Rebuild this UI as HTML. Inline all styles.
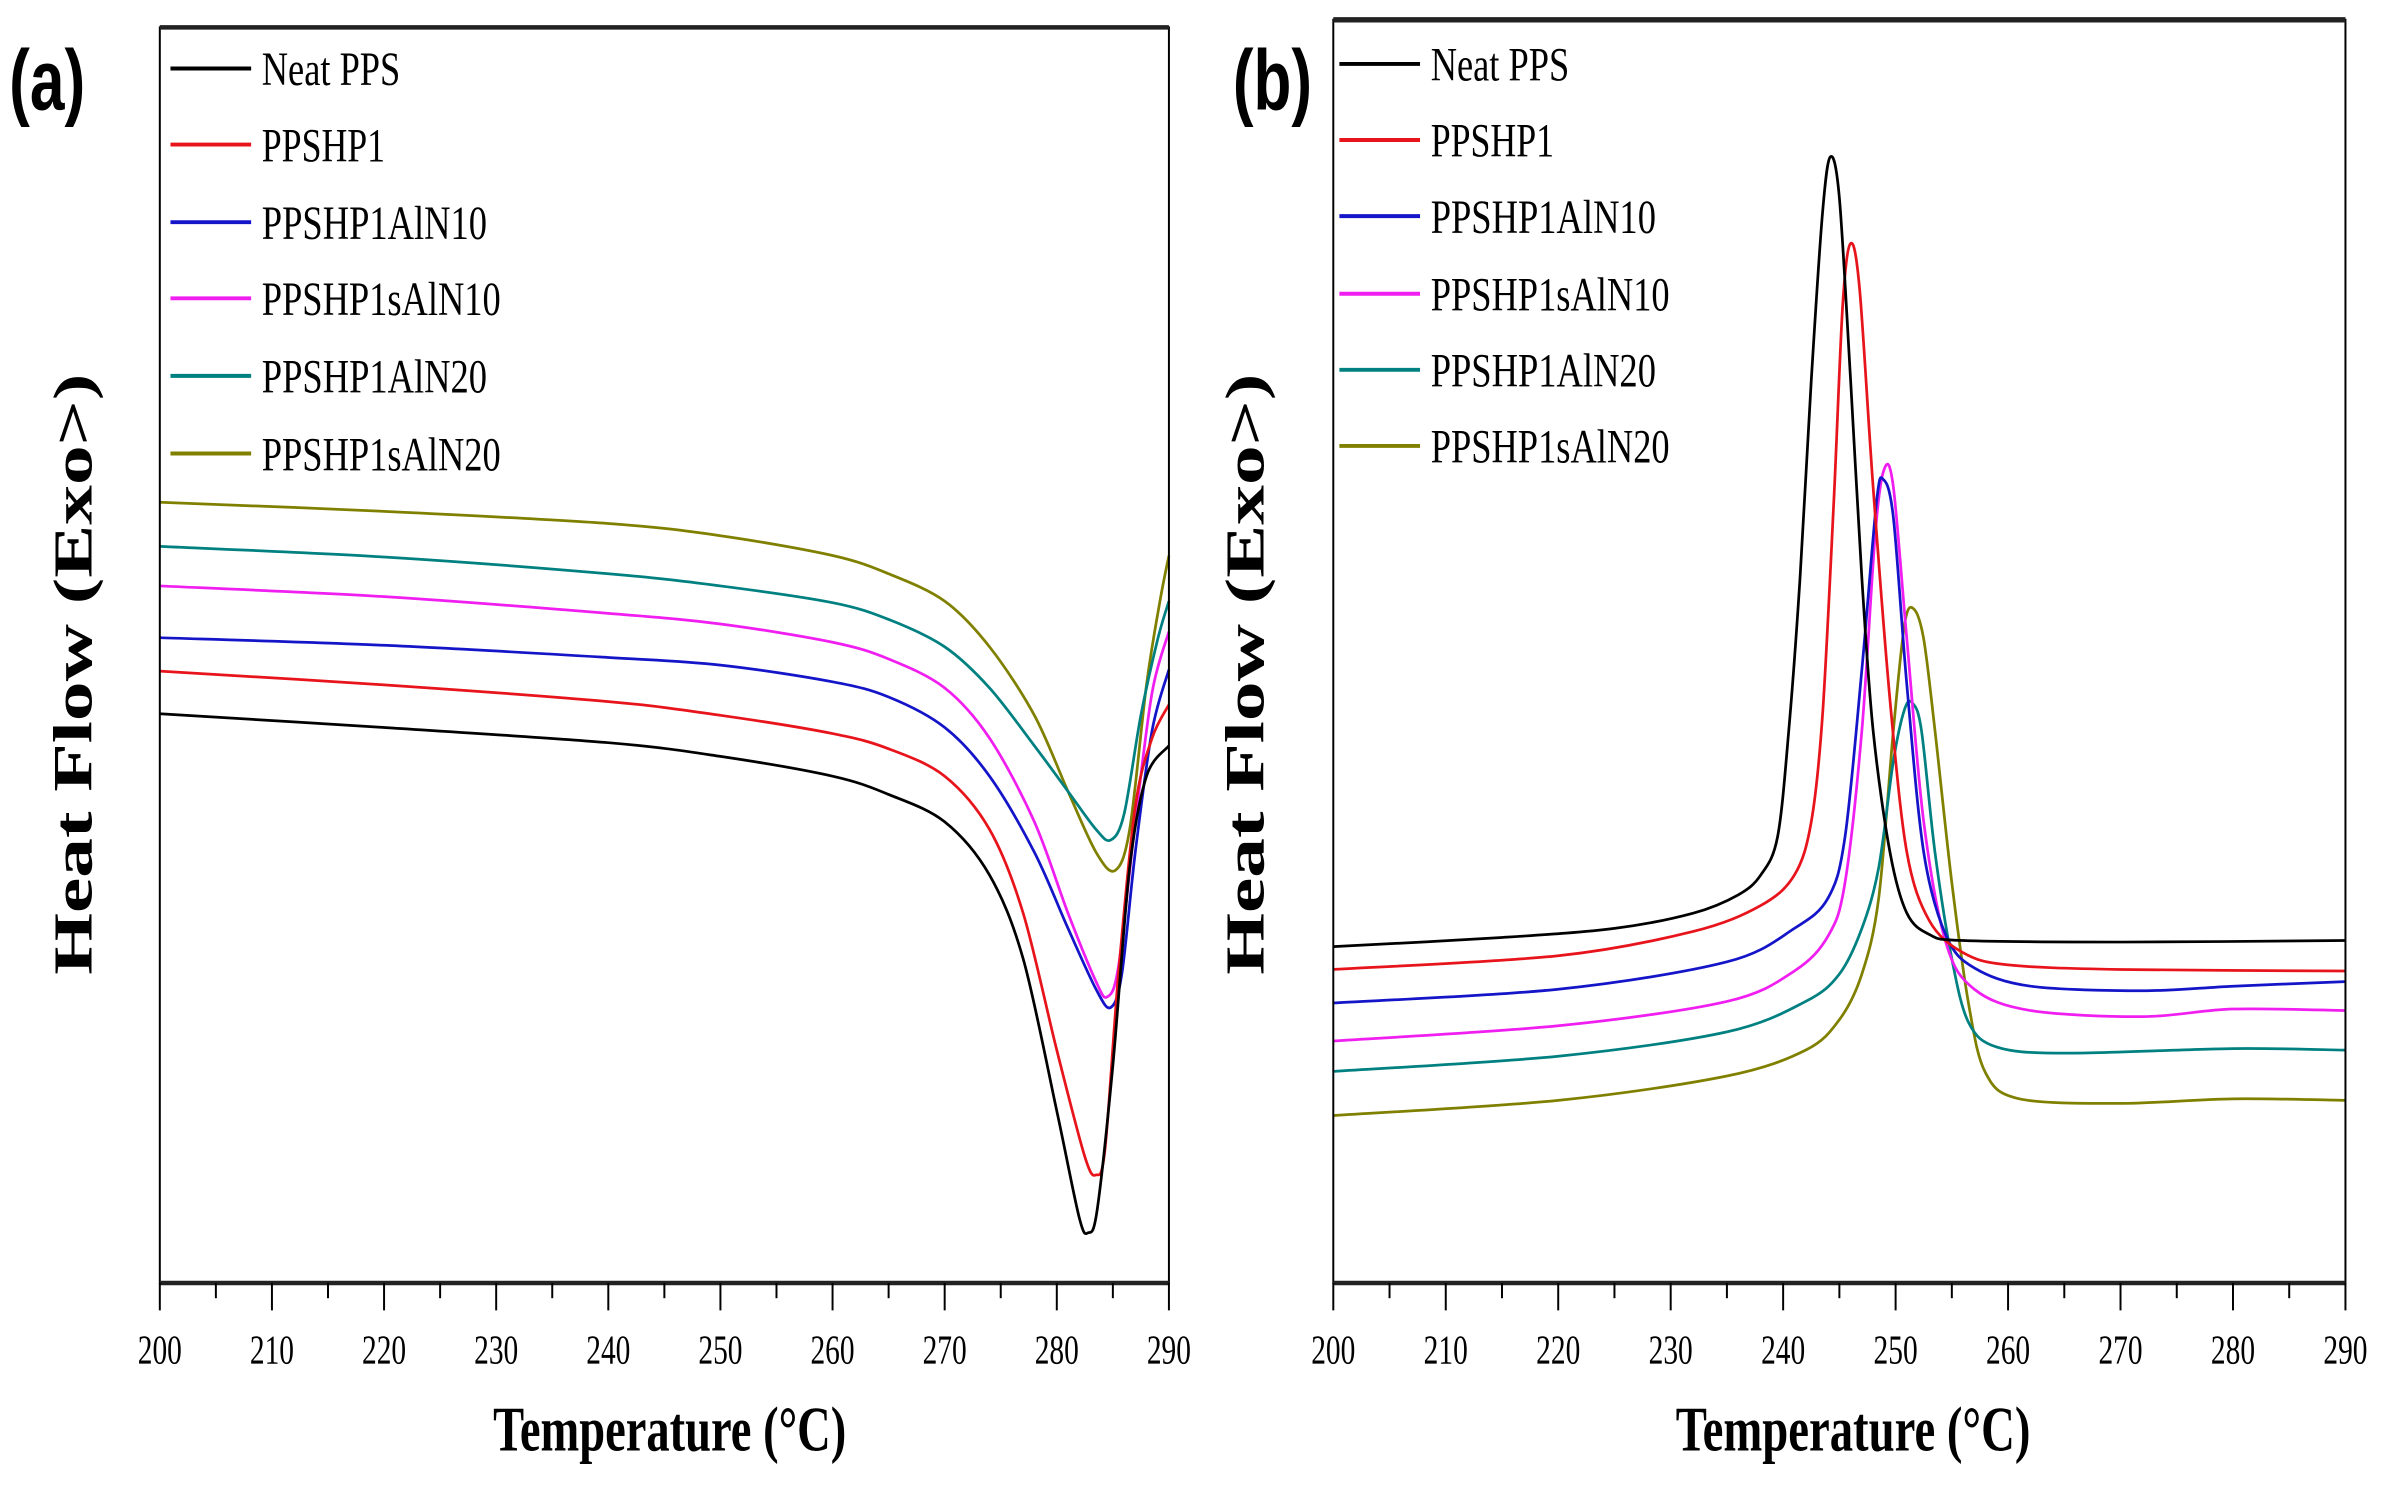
<!DOCTYPE html>
<html><head><meta charset="utf-8"><style>html,body{margin:0;padding:0;background:#fff;}svg{display:block}</style></head>
<body>
<svg id="s" width="2387" height="1493" viewBox="0 0 1568.3 981" preserveAspectRatio="none" xmlns="http://www.w3.org/2000/svg" font-family="'Liberation Serif', serif">
<rect width="1568.3" height="981" fill="#fff"/>
<g id="plots"></g>
<!-- frames -->
<rect x="105" y="18" width="663" height="825" fill="none" stroke="#000" stroke-width="1.3"/>
<line x1="105" y1="18" x2="768" y2="18" stroke="#222" stroke-width="3"/>
<line x1="105" y1="843" x2="768" y2="843" stroke="#222" stroke-width="3"/>
<rect x="876" y="13" width="665" height="830" fill="none" stroke="#000" stroke-width="1.3"/>
<line x1="876" y1="13" x2="1541" y2="13" stroke="#222" stroke-width="3.5"/>
<line x1="876" y1="843" x2="1541" y2="843" stroke="#222" stroke-width="3"/>
<g id="ticks"></g>
<!-- panel labels -->
<text x="6" y="72" font-family="'Liberation Sans', sans-serif" font-weight="bold" font-size="56" textLength="50" lengthAdjust="spacingAndGlyphs">(a)</text>
<text x="810" y="72" font-family="'Liberation Sans', sans-serif" font-weight="bold" font-size="56" textLength="52" lengthAdjust="spacingAndGlyphs">(b)</text>
<!-- y labels -->
<text transform="translate(60,443) rotate(-90)" text-anchor="middle" font-weight="bold" font-size="36" textLength="395" lengthAdjust="spacingAndGlyphs">Heat Flow (Exo&gt;)</text>
<text transform="translate(830,443) rotate(-90)" text-anchor="middle" font-weight="bold" font-size="36" textLength="395" lengthAdjust="spacingAndGlyphs">Heat Flow (Exo&gt;)</text>
<!-- x titles -->
<text x="324" y="953" font-weight="bold" font-size="42" textLength="232" lengthAdjust="spacingAndGlyphs">Temperature (°C)</text>
<text x="1101" y="953" font-weight="bold" font-size="42" textLength="233" lengthAdjust="spacingAndGlyphs">Temperature (°C)</text>
<g id="leg"></g>
</svg>
<script>
var NS="http://www.w3.org/2000/svg";
function el(p,t,a,txt){var e=document.createElementNS(NS,t);for(var k in a)e.setAttribute(k,a[k]);if(txt!==undefined)e.textContent=txt;p.appendChild(e);return e;}
var cols=["#000","#e8141c","#1414c8","#f01ef0","#008080","#808000"];
var names=["Neat PPS","PPSHP1","PPSHP1AlN10","PPSHP1sAlN10","PPSHP1AlN20","PPSHP1sAlN20"];
var widths=[91,81,148,157,148,157];
function spline(pts,X){var d="";var P=pts.map(function(p){return [X(p[0]),p[1]];});
 d="M"+P[0][0].toFixed(2)+","+P[0][1].toFixed(2);
 for(var i=0;i<P.length-1;i++){var p0=P[i-1]||P[i],p1=P[i],p2=P[i+1],p3=P[i+2]||P[i+1];
  var t=0.16;var c1=[p1[0]+(p2[0]-p0[0])*t,p1[1]+(p2[1]-p0[1])*t],c2=[p2[0]-(p3[0]-p1[0])*t,p2[1]-(p3[1]-p1[1])*t];
  d+="C"+c1[0].toFixed(2)+","+c1[1].toFixed(2)+" "+c2[0].toFixed(2)+","+c2[1].toFixed(2)+" "+p2[0].toFixed(2)+","+p2[1].toFixed(2);}
 return d;}
var A=[
[[200,469],[220,478],[240,488],[250,497],[260,510],[265,522],[270,540],[274,575],[277,630],[280,730],[282,800],[282.8,810],[283.6,795],[285,700],[286.5,570],[288,510],[290,490]],
[[200,441],[220,450],[240,461],[250,470],[260,482],[265,492],[270,510],[274,545],[277,600],[280,690],[282.5,760],[283.5,772],[284.3,755],[285.5,640],[287,530],[288.5,485],[290,463]],
[[200,419],[220,424],[240,432],[250,437],[260,448],[265,458],[270,478],[274,510],[278,560],[281,610],[283.5,650],[284.8,662],[285.8,640],[287,560],[288.5,480],[290,440]],
[[200,385],[220,392],[240,403],[250,410],[260,422],[265,433],[270,452],[274,485],[278,540],[281,600],[283.5,645],[284.5,655],[285.5,635],[287,540],[288.5,455],[290,415]],
[[200,359],[220,366],[240,377],[250,385],[260,396],[265,407],[270,425],[274,452],[278,490],[281,520],[283.5,545],[284.8,552],[286,535],[287.5,470],[289,420],[290,395]],
[[200,330],[220,336],[240,344],[250,352],[260,365],[265,377],[270,395],[274,425],[278,470],[281,520],[283.5,560],[285.2,572],[286.5,545],[288,450],[289.2,395],[290,365]]];
var B=[
[[200,622],[215,616],[225,610],[232,600],[236,588],[238,575],[239.5,550],[240.5,480],[241.5,380],[242.5,250],[243.5,140],[244.2,103],[245,130],[246,250],[247,380],[248,480],[249.5,560],[251,600],[253,614],[256,618],[270,619],[290,618]],
[[200,637],[220,628],[232,612],[238,595],[241,575],[242.5,540],[243.5,470],[244.5,330],[245.3,200],[246,160],[246.8,190],[248,320],[249.5,460],[251,560],[253,605],[256,626],[260,634],[270,637],[290,638]],
[[200,659],[220,650],[235,632],[241,610],[244,590],[245.5,550],[247,440],[248.3,330],[248.9,315],[249.8,340],[251,450],[252.5,560],[254.5,615],[257,636],[262,648],[272,651],[280,648],[290,645]],
[[200,684],[220,674],[235,658],[241,638],[244,615],[245.5,580],[247,480],[248.2,350],[249,308],[249.8,320],[251,420],[252.5,540],[254.5,620],[257,650],[262,664],[272,668],[280,663],[290,664]],
[[200,704],[220,694],[235,678],[242,658],[245,640],[247,610],[248.5,570],[249.8,500],[250.8,466],[251.5,462],[252.3,480],[253.5,560],[255,630],[256.5,672],[259,688],[265,692],[280,689],[290,690]],
[[200,733],[220,723],[235,707],[242,690],[245,670],[247,640],[248.5,590],[249.8,480],[250.8,410],[251.6,400],[252.5,420],[253.5,480],[255,580],[256.5,660],[258,705],[261,722],[270,725],[280,722],[290,723]]];
var g=document.getElementById("plots");
var XA=function(t){return 105+(t-200)*663/90;},XB=function(t){return 876+(t-200)*665/90;};
for(var i=5;i>=0;i--){el(g,"path",{d:spline(A[i],XA),fill:"none",stroke:cols[i],"stroke-width":1.8});}
for(var i=5;i>=0;i--){el(g,"path",{d:spline(B[i],XB),fill:"none",stroke:cols[i],"stroke-width":1.8});}
var tk=document.getElementById("ticks");
[[XA],[XB]].forEach(function(o){var X=o[0];for(var t=200;t<=290;t+=5){var maj=t%10==0;el(tk,"line",{x1:X(t),x2:X(t),y1:843,y2:843+(maj?18:10),stroke:"#000","stroke-width":1.3});
 if(maj)el(tk,"text",{x:X(t),y:896,"text-anchor":"middle","font-size":27,textLength:29,lengthAdjust:"spacingAndGlyphs"},String(t));}});
var lg=document.getElementById("leg");
var ya=[45,95,146,196,247,298],yb=[42,92,142,193,243,293];
for(var i=0;i<6;i++){
 el(lg,"line",{x1:112,x2:165,y1:ya[i],y2:ya[i],stroke:cols[i],"stroke-width":2.6});
 el(lg,"text",{x:172,y:ya[i]+11,"font-size":31,textLength:widths[i],lengthAdjust:"spacingAndGlyphs"},names[i]);
 el(lg,"line",{x1:880,x2:933,y1:yb[i],y2:yb[i],stroke:cols[i],"stroke-width":2.6});
 el(lg,"text",{x:940,y:yb[i]+11,"font-size":31,textLength:widths[i],lengthAdjust:"spacingAndGlyphs"},names[i]);
}
</script>
</body></html>
